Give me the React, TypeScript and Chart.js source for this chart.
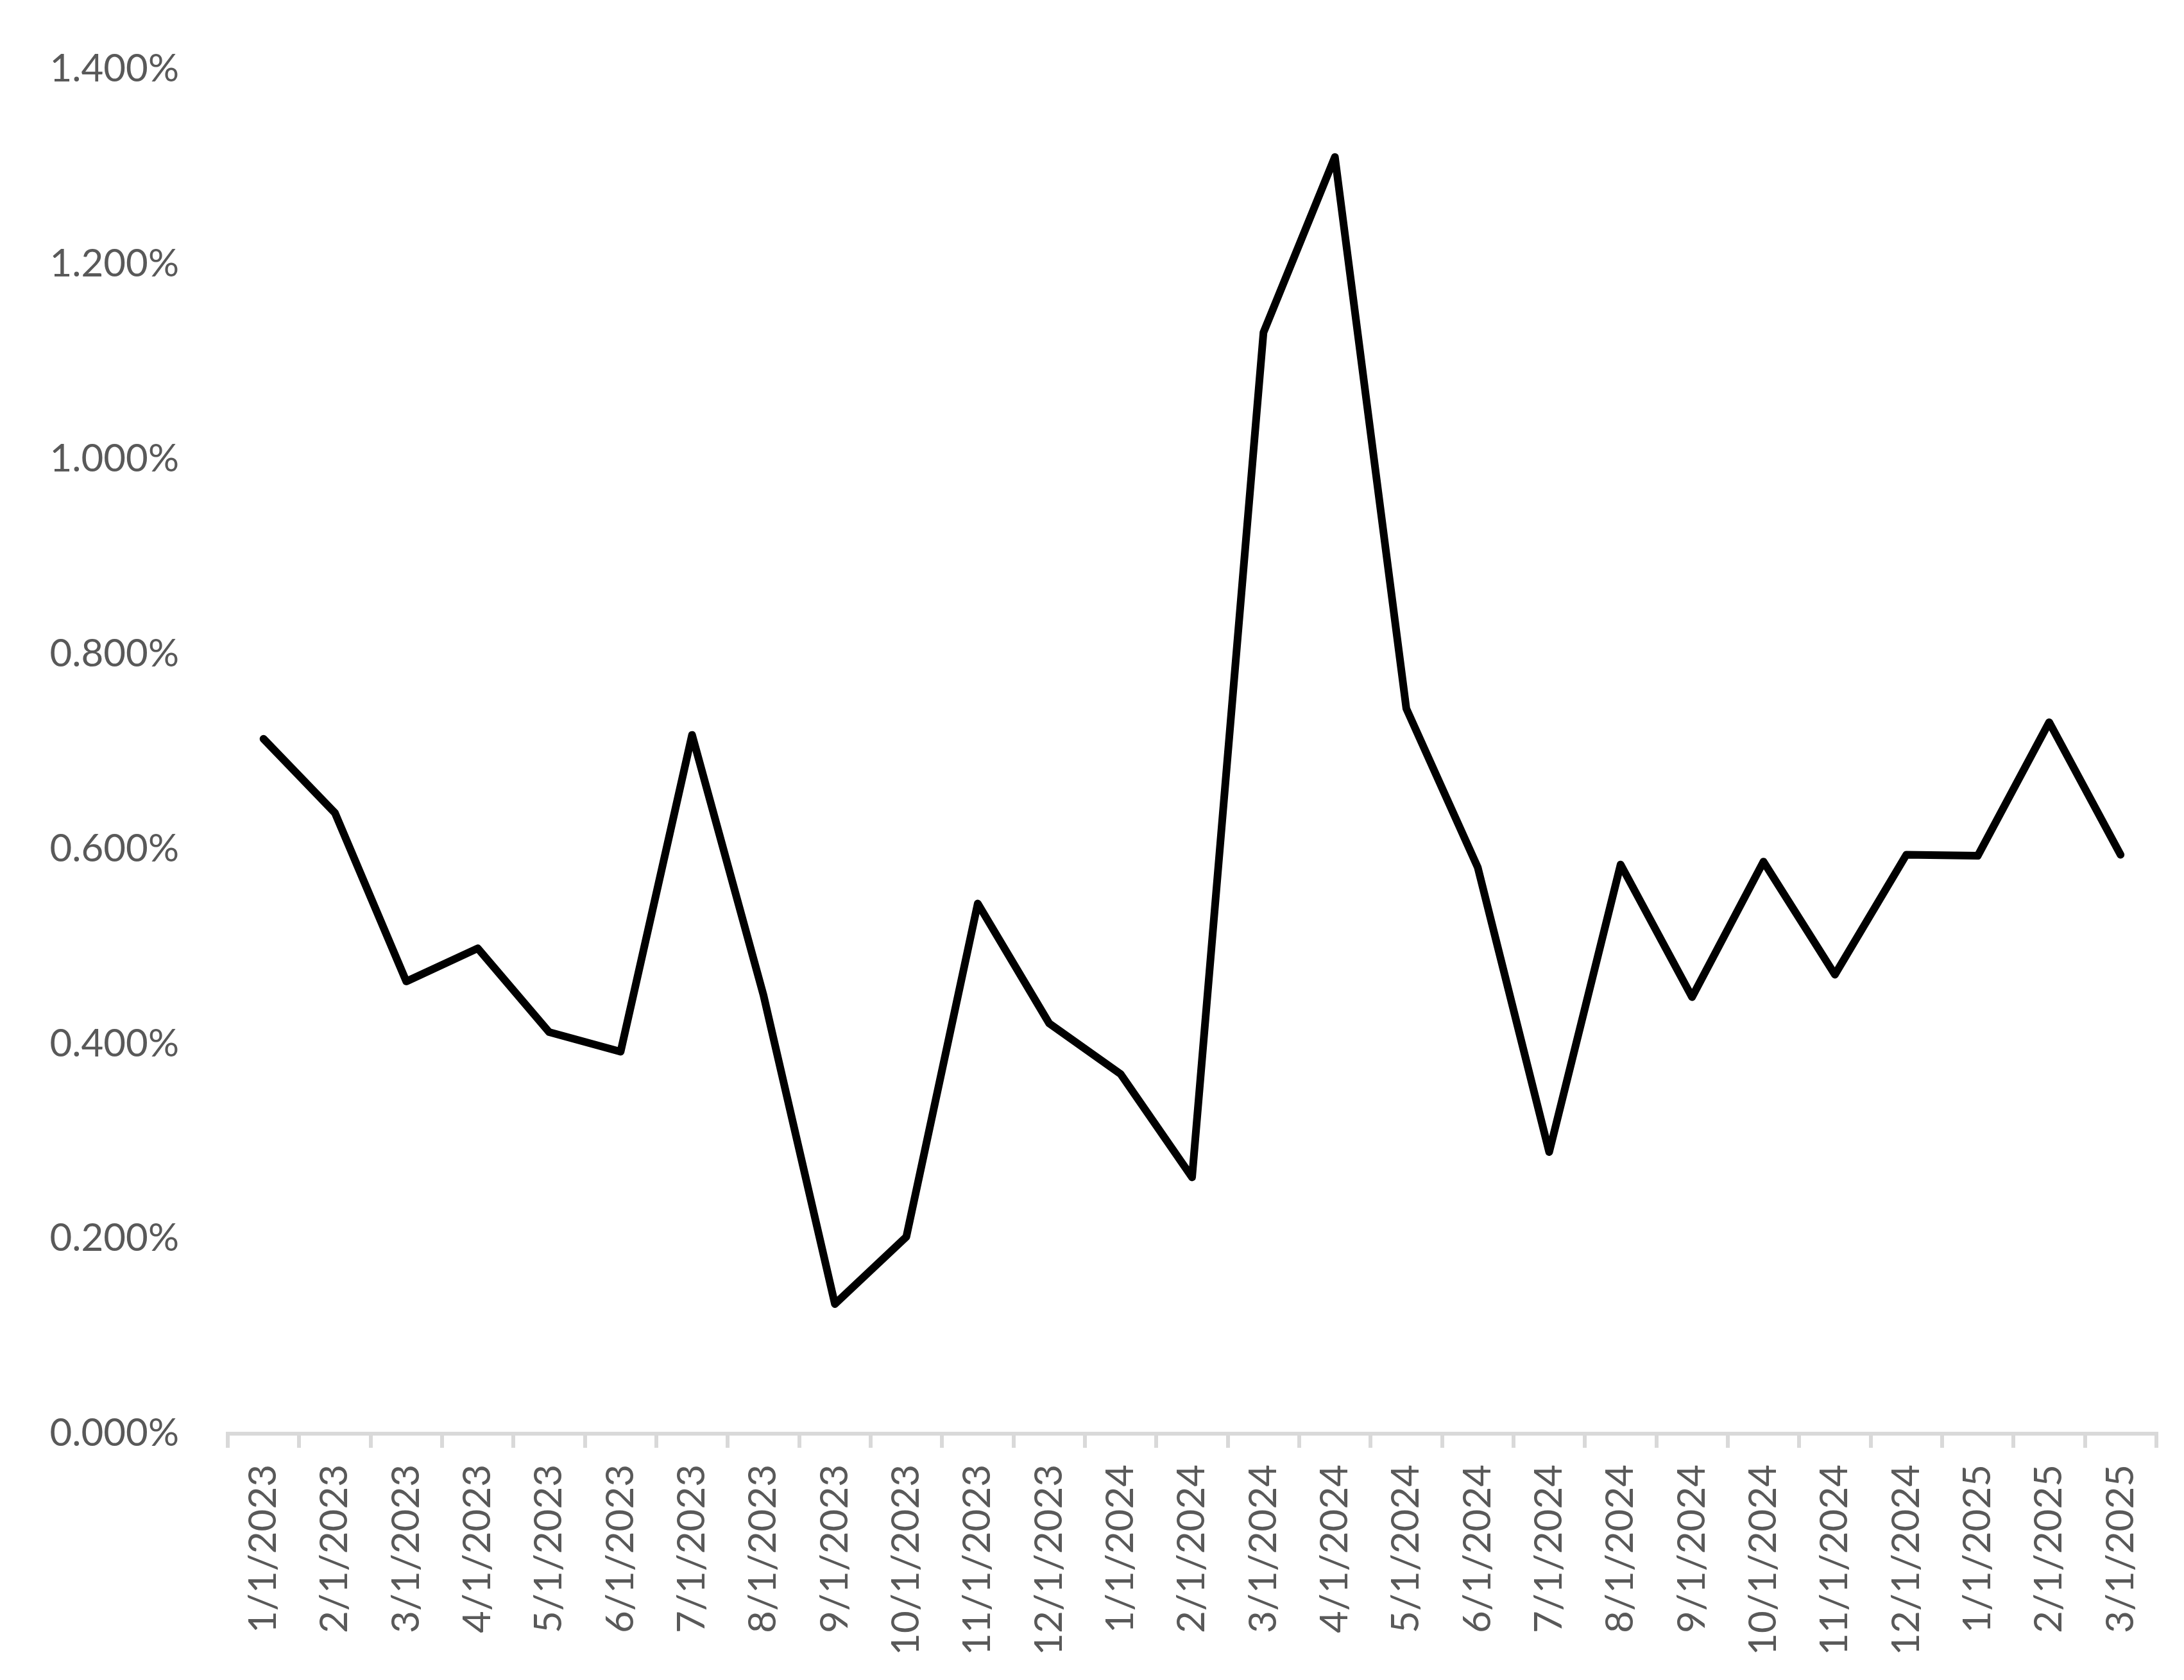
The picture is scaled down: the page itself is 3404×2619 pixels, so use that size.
import React, { useEffect, useRef } from "react";
import { Chart, registerables } from "chart.js";

Chart.register(...registerables);

const categories: string[] = [
  "1/1/2023", "2/1/2023", "3/1/2023", "4/1/2023", "5/1/2023", "6/1/2023",
  "7/1/2023", "8/1/2023", "9/1/2023", "10/1/2023", "11/1/2023", "12/1/2023",
  "1/1/2024", "2/1/2024", "3/1/2024", "4/1/2024", "5/1/2024", "6/1/2024",
  "7/1/2024", "8/1/2024", "9/1/2024", "10/1/2024", "11/1/2024", "12/1/2024",
  "1/1/2025", "2/1/2025", "3/1/2025",
];

// values in percent
const seriesValues: number[] = [
  0.713, 0.637, 0.464, 0.498, 0.412, 0.392,
  0.717, 0.450, 0.133, 0.202, 0.544, 0.421,
  0.369, 0.263, 1.130, 1.310, 0.744, 0.581,
  0.289, 0.584, 0.448, 0.587, 0.471, 0.594,
  0.593, 0.730, 0.594,
];

const yMin = 0;
const yMax = 1.4;
const yStep = 0.2;

const W = 3404;
const H = 2619;

export default function App() {
  const ref = useRef<HTMLCanvasElement | null>(null);

  useEffect(() => {
    if (!ref.current) return;
    const font = { family: "Lato, 'Open Sans', sans-serif", size: 60 };
    const chart = new Chart(ref.current, {
      type: "line",
      data: {
        labels: categories,
        datasets: [
          {
            data: seriesValues,
            borderColor: "#000000",
            backgroundColor: "#000000",
            borderWidth: 12,
            pointRadius: 0,
            pointHoverRadius: 0,
            tension: 0,
            borderJoinStyle: "round",
            borderCapStyle: "round",
            fill: false,
          },
        ],
      },
      options: {
        responsive: false,
        animation: false,
        events: [],
        layout: { padding: { top: 108, right: 43, left: 0, bottom: 0 } },
        plugins: {
          legend: { display: false },
          tooltip: { enabled: false },
          title: { display: false },
        },
        scales: {
          x: {
            type: "category",
            offset: true,
            grid: {
              offset: true,
              drawOnChartArea: false,
              drawTicks: true,
              tickLength: 22,
              color: "#d9d9d9",
              lineWidth: 6,
            },
            border: { display: true, color: "#d9d9d9", width: 6 },
            ticks: {
              autoSkip: false,
              maxRotation: 90,
              minRotation: 90,
              padding: 26,
              color: "#595959",
              font,
            },
            afterFit: (scale: any) => {
              scale.height = H - 2235;
            },
          },
          y: {
            min: yMin,
            max: yMax,
            grid: { display: false },
            border: { display: false },
            ticks: {
              stepSize: yStep,
              padding: 68,
              color: "#595959",
              font,
              callback: (v: any) => Number(v).toFixed(3) + "%",
            },
            afterFit: (scale: any) => {
              scale.width = 355;
            },
          },
        },
      },
    });
    return () => chart.destroy();
  }, []);

  return (
    <div style={{ position: "fixed", left: 0, top: 0, width: W, height: H, background: "#ffffff" }}>
      <canvas ref={ref} width={W} height={H} style={{ width: W, height: H, display: "block" }} />
    </div>
  );
}
